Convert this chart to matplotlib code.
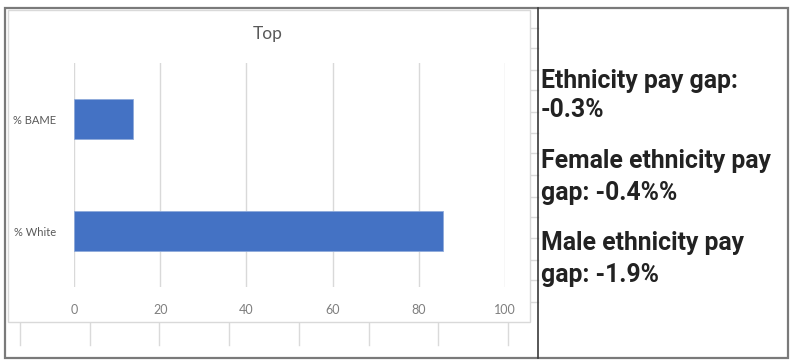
import matplotlib
matplotlib.use("Agg")
import matplotlib.pyplot as plt
from matplotlib.lines import Line2D
from matplotlib.patches import Rectangle

W, H = 800, 363

categories = ["% White", "% BAME"]
values = [85.7, 13.8]
xticks = [0, 20, 40, 60, 80, 100]
title = "Top"
notes = ["Ethnicity pay gap:", "-0.3%",
         "Female ethnicity pay", "gap: -0.4%%",
         "Male ethnicity pay", "gap: -1.9%"]


def fx(px):
    return px / W


def fy(py):
    return 1 - py / H


fig = plt.figure(figsize=(W / 100, H / 100), dpi=100)
fig.patch.set_facecolor("white")


def hline(x0, x1, y, color, lw):
    fig.add_artist(Line2D([fx(x0), fx(x1)], [fy(y), fy(y)], color=color, lw=lw, zorder=-2))


def vline(x, y0, y1, color, lw, z=-2):
    fig.add_artist(Line2D([fx(x), fx(x)], [fy(y0), fy(y1)], color=color, lw=lw, zorder=z))


# spreadsheet cell lines around the chart
for x in [20, 90, 159, 229, 299, 369, 438, 508]:
    vline(x, 322, 345, "#dadada", 1)
for y in [28, 48, 70, 90, 112, 133, 153, 175, 197, 217, 238, 260, 280, 302]:
    hline(530, 538, y, "#dadada", 1)

# chart area box
fig.add_artist(Rectangle((fx(8), fy(322)), fx(522), 312 / H, facecolor="white",
                         edgecolor="#d9d9d9", lw=1, zorder=-1))

# outer frame and divider
fig.add_artist(Rectangle((fx(5), fy(358)), fx(783), 350 / H, facecolor="none",
                         edgecolor="#7a7a7a", lw=1.6, zorder=3))
vline(538, 8, 358, "#3a3a3a", 1.2, z=3)

ax = fig.add_axes([fx(74), fy(287), fx(431), 224 / H])
ax.set_zorder(2)
ax.barh(range(len(categories)), values, height=0.35, color="#4472c4",
        edgecolor="#8eaadb", linewidth=0.6, zorder=3)
ax.set_xlim(0, 100)
ax.set_ylim(-0.5, 1.5)
ax.set_xticks(xticks)
ax.set_yticks(range(len(categories)))
ax.set_yticklabels(categories)
ax.grid(axis="x", color="#d9d9d9", lw=1)
for s in ax.spines.values():
    s.set_visible(False)
ax.tick_params(length=0, colors="#7f7f7f", labelsize=9)
ax.tick_params(axis="x", pad=12)
ax.tick_params(axis="y", pad=13, labelsize=8, labelcolor="#595959")
for lab in ax.get_xticklabels() + ax.get_yticklabels():
    lab.set_family("Lato")
ax.set_facecolor("none")

fig.text(fx(268), fy(34), title, ha="center", va="center", fontsize=12.5,
         color="#595959", family="Lato")

baselines = [88, 117, 168, 200, 250, 282]
for txt, yb in zip(notes, baselines):
    fig.text(fx(541), fy(yb), txt, ha="left", va="baseline", fontsize=17.8,
             fontweight="bold", color="#222222", family="Roboto")

fig.savefig("out.png", dpi=100)
